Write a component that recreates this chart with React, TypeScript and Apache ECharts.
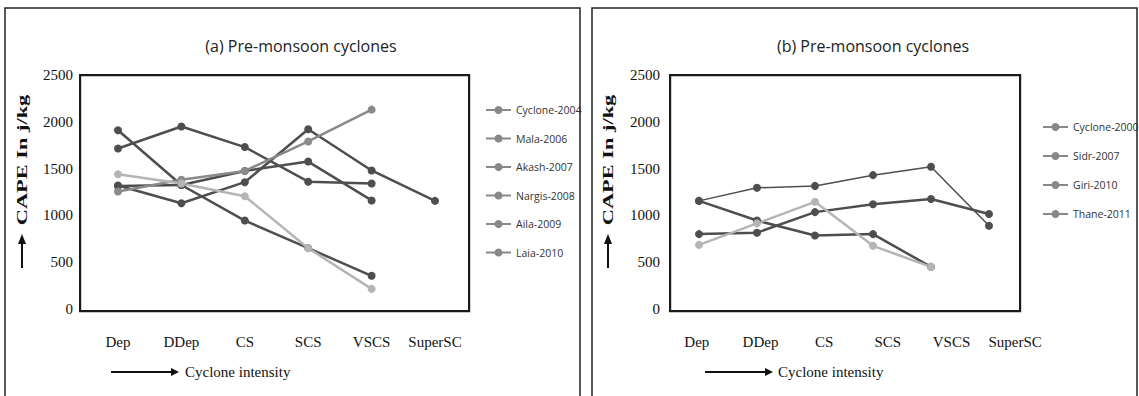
import React, { useEffect, useRef } from "react";
import * as echarts from "echarts";

const categories = ["Dep", "DDep", "CS", "SCS", "VSCS", "SuperSC"];
const yTicks = { min: 0, max: 2500, interval: 500 };

// (a) Pre-monsoon cyclones
const leftNames = ["Cyclone-2004", "Mala-2006", "Akash-2007", "Nargis-2008", "Aila-2009", "Laia-2010"];
const cyclone2004 = [1910, 1325, 945, 650, 355, null];
const mala2006 = [1715, 1950, 1730, 1360, 1340, null];
const akash2007 = [1315, 1325, 1475, 1575, 1160, null];
const nargis2008 = [1320, 1130, 1355, 1920, 1480, 1155];
const aila2009 = [1255, 1380, 1475, 1790, 2130, null];
const laia2010 = [1440, 1340, 1205, 650, 215, null];

// (b) Pre-monsoon cyclones
const rightNames = ["Cyclone-2000", "Sidr-2007", "Giri-2010", "Thane-2011"];
const cyclone2000 = [1155, 1295, 1315, 1430, 1520, 890];
const sidr2007 = [800, 815, 1035, 1120, 1175, 1015];
const giri2010 = [1155, 945, 785, 800, 450, null];
const thane2011 = [685, 915, 1145, 675, 450, null];

const DARK = "#4e4e50";
const GRAY = "#8a8a8a";
const LIGHT = "#b5b5b5";
const BOX = "#1a1a1a";
const SERIF = "'Liberation Serif', 'DejaVu Serif', serif";
const SANS = "'Open Sans', 'Noto Sans', sans-serif";

function mkSeries(name: string, data: (number | null)[], color: string, xi: number, yi: number, width = 2.5) {
  return {
    name,
    type: "line",
    data,
    xAxisIndex: xi,
    yAxisIndex: yi,
    symbol: "circle",
    symbolSize: 8,
    lineStyle: { color, width },
    itemStyle: { color },
    connectNulls: false,
    z: 5,
  };
}

function upArrow(x: number) {
  return [
    { type: "line", shape: { x1: x, y1: 268, x2: x, y2: 242 }, style: { stroke: "#111", lineWidth: 2 } },
    { type: "polygon", shape: { points: [[x - 4, 244], [x + 4, 244], [x, 234]] }, style: { fill: "#111" } },
  ];
}
function rightArrow(x1: number, x2: number, y: number) {
  return [
    { type: "line", shape: { x1, y1: y, x2: x2 - 6, y2: y }, style: { stroke: "#111", lineWidth: 2 } },
    { type: "polygon", shape: { points: [[x2 - 8, y - 4], [x2 - 8, y + 4], [x2, y]] }, style: { fill: "#111" } },
  ];
}
function yTitle(x: number) {
  return {
    type: "text",
    x,
    y: 160,
    rotation: Math.PI / 2,
    scaleX: 1.6,
    style: {
      text: "CAPE In j/kg",
      x: 0,
      y: 0,
      align: "center",
      verticalAlign: "middle",
      fontFamily: SERIF,
      fontWeight: "bold",
      fontSize: 14,
      fill: "#111",
    },
  };
}
function xTitle(x: number, y: number) {
  return {
    type: "text",
    x,
    y,
    style: {
      text: "Cyclone intensity",
      align: "left",
      verticalAlign: "middle",
      fontFamily: SERIF,
      fontSize: 15,
      fill: "#111",
    },
  };
}
// plot box positioned with left/top
function plotBox(left: number, width: number) {
  return {
    type: "rect",
    left: left - 1,
    top: 74,
    z: 100,
    shape: { x: 0, y: 0, width: width + 2, height: 236 },
    style: { fill: "rgba(0,0,0,0)", stroke: BOX, lineWidth: 2.2 },
  };
}

export default function App() {
  const ref = useRef<HTMLDivElement>(null);
  useEffect(() => {
    if (!ref.current) return;
    const chart = echarts.init(ref.current, undefined, { renderer: "svg" });
    const yLabel = { fontFamily: SERIF, fontSize: 15, color: "#111", formatter: (v: number) => String(v) };
    const legendText = { fontFamily: SANS, fontSize: 10.5, color: "#333", lineHeight: 12 };
    const catLabel = { margin: 25, fontFamily: SERIF, fontSize: 15, color: "#111", interval: 0 };
    const option: any = {
      animation: false,
      backgroundColor: "#fff",
      title: [
        {
          text: "(a) Pre-monsoon cyclones",
          left: 296,
          top: 33,
          textAlign: "center",
          textStyle: { fontFamily: SANS, fontSize: 16, fontWeight: "normal", color: "#222" },
        },
        {
          text: "(b) Pre-monsoon cyclones",
          left: 868,
          top: 33,
          textAlign: "center",
          textStyle: { fontFamily: SANS, fontSize: 16, fontWeight: "normal", color: "#222" },
        },
      ],
      legend: [
        {
          data: leftNames,
          orient: "vertical",
          left: 480,
          top: 99,
          itemWidth: 25,
          itemHeight: 10,
          itemGap: 16.5,
          itemStyle: { color: "#888" },
          lineStyle: { color: "#888", width: 2 },
          textStyle: legendText,
        },
        {
          data: rightNames,
          orient: "vertical",
          left: 1037,
          top: 116,
          itemWidth: 25,
          itemHeight: 10,
          itemGap: 17,
          itemStyle: { color: "#888" },
          lineStyle: { color: "#888", width: 2 },
          textStyle: legendText,
        },
      ],
      grid: [
        { left: 118, top: 75, width: 317, height: 234 },
        { left: 670, top: 75, width: 348, height: 234 },
        { left: 665, top: 75, width: 382, height: 234 },
        { left: 80, top: 75, width: 387, height: 234 },
      ],
      xAxis: [
        { type: "category", gridIndex: 0, data: categories, boundaryGap: false, axisLine: { show: false }, axisTick: { show: false }, axisLabel: catLabel },
        { type: "category", gridIndex: 1, data: categories, boundaryGap: true, axisLine: { show: false }, axisTick: { show: false }, axisLabel: { show: false } },
        { type: "category", gridIndex: 2, data: categories, boundaryGap: true, axisLine: { show: false }, axisTick: { show: false }, axisLabel: catLabel },
        { type: "category", gridIndex: 3, data: categories, show: false },
      ],
      yAxis: [
        { type: "value", gridIndex: 0, ...yTicks, show: false, splitLine: { show: false } },
        { type: "value", gridIndex: 1, ...yTicks, axisLine: { show: false }, axisTick: { show: false }, splitLine: { show: false }, axisLabel: { ...yLabel, margin: 10 } },
        { type: "value", gridIndex: 2, ...yTicks, show: false, splitLine: { show: false } },
        { type: "value", gridIndex: 3, ...yTicks, axisLine: { show: false }, axisTick: { show: false }, splitLine: { show: false }, axisLabel: { ...yLabel, margin: 7 } },
      ],
      series: [
        mkSeries("Cyclone-2004", cyclone2004, DARK, 0, 0),
        mkSeries("Mala-2006", mala2006, DARK, 0, 0),
        mkSeries("Akash-2007", akash2007, DARK, 0, 0),
        mkSeries("Nargis-2008", nargis2008, DARK, 0, 0),
        mkSeries("Aila-2009", aila2009, GRAY, 0, 0),
        mkSeries("Laia-2010", laia2010, LIGHT, 0, 0),
        mkSeries("Cyclone-2000", cyclone2000, DARK, 1, 1, 1.5),
        mkSeries("Sidr-2007", sidr2007, DARK, 1, 1),
        mkSeries("Giri-2010", giri2010, DARK, 1, 1),
        mkSeries("Thane-2011", thane2011, LIGHT, 1, 1),
      ],
      graphic: {
        elements: [
          { type: "rect", shape: { x: 5, y: 8, width: 575, height: 400 }, style: { fill: "none", stroke: "#222", lineWidth: 1.5 } },
          { type: "rect", shape: { x: 592, y: 8, width: 545, height: 400 }, style: { fill: "none", stroke: "#222", lineWidth: 1.5 } },
          plotBox(80, 387),
          plotBox(670, 348),
          yTitle(22),
          yTitle(608),
          ...upArrow(22),
          ...upArrow(608),
          ...rightArrow(111, 179, 372),
          ...rightArrow(705, 773, 372),
          xTitle(185, 372),
          xTitle(778, 372),
        ],
      },
    };
    chart.setOption(option);
    return () => chart.dispose();
  }, []);
  return (
    <div
      ref={ref}
      style={{ position: "fixed", left: 0, top: 0, width: 1139, height: 396, background: "#fff" }}
    />
  );
}
